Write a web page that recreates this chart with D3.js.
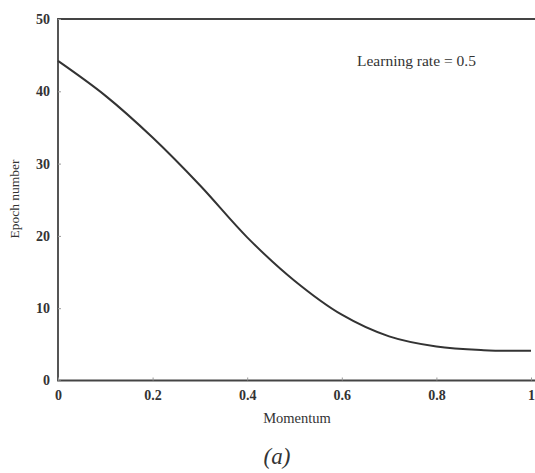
<!DOCTYPE html>
<html>
<head>
<meta charset="utf-8">
<script src="https://cdn.jsdelivr.net/npm/d3@7"></script>
<style>
  body { margin: 0; background: #fff; }
  text { font-family: "Liberation Serif", "DejaVu Serif", serif; fill: #333; }
</style>
</head>
<body>
<div id="chart"></div>
<script>
// Data
const momentum = [0, 0.1, 0.2, 0.3, 0.4, 0.5, 0.6, 0.7, 0.8, 0.9, 1.0];
const epochs = [44.2, 39.4, 33.6, 27.0, 19.8, 13.8, 9.1, 6.1, 4.7, 4.2, 4.1];
const xTicks = [0, 0.2, 0.4, 0.6, 0.8, 1];
const yTicks = [0, 10, 20, 30, 40, 50];

const width = 535, height = 473;
const plotLeft = 58, plotRight = 531, plotTop = 19, plotBottom = 380.5;

const svg = d3.select("#chart")
    .append("svg")
    .attr("width", width)
    .attr("height", height);

const x = d3.scaleLinear().domain([0, 1]).range([plotLeft, plotRight]);
const y = d3.scaleLinear().domain([0, 50]).range([plotBottom, plotTop]);

// frame: left, bottom, top
svg.append("path")
    .attr("d", `M${width},${plotTop}H${plotLeft}V${plotBottom}H${width}`)
    .attr("fill", "none")
    .attr("stroke", "#444")
    .attr("stroke-width", 1.8);

// y axis
const yAxis = svg.append("g")
    .attr("transform", `translate(${plotLeft},0)`)
    .call(d3.axisLeft(y).tickValues(yTicks).tickSize(-3).tickPadding(8).tickFormat(d3.format("d")));
yAxis.select(".domain").remove();
yAxis.selectAll("line").attr("stroke", "#999");
yAxis.selectAll("text")
    .style("font-family", "Liberation Serif")
    .style("font-size", "14px")
    .style("font-weight", "bold")
    .attr("fill", "#444");

// x axis
const xAxis = svg.append("g")
    .attr("transform", `translate(0,${plotBottom})`)
    .call(d3.axisBottom(x).tickValues(xTicks).tickSize(-3).tickPadding(10).tickFormat(d => d === 0 || d === 1 ? d : d3.format(".1f")(d)));
xAxis.select(".domain").remove();
xAxis.selectAll("line").attr("stroke", "#999");
xAxis.selectAll("text")
    .style("font-family", "Liberation Serif")
    .style("font-size", "14px")
    .style("font-weight", "bold")
    .attr("fill", "#444");

// curve
const points = momentum.map((m, i) => [m, epochs[i]]);
const line = d3.line()
    .x(d => x(d[0]))
    .y(d => y(d[1]))
    .curve(d3.curveCatmullRom.alpha(0.5));

svg.append("path")
    .datum(points)
    .attr("d", line)
    .attr("fill", "none")
    .attr("stroke", "#333")
    .attr("stroke-width", 2);

// labels
svg.append("text")
    .attr("x", 357)
    .attr("y", 66)
    .style("font-size", "15.5px")
    .text("Learning rate = 0.5");

svg.append("text")
    .attr("transform", "translate(19,199) rotate(-90)")
    .attr("text-anchor", "middle")
    .style("font-size", "13.5px")
    .text("Epoch number");

svg.append("text")
    .attr("x", 297)
    .attr("y", 423)
    .attr("text-anchor", "middle")
    .style("font-size", "14.5px")
    .text("Momentum");

svg.append("text")
    .attr("x", 277)
    .attr("y", 464)
    .attr("text-anchor", "middle")
    .style("font-size", "23px")
    .style("font-style", "italic")
    .text("(a)");
</script>
</body>
</html>
